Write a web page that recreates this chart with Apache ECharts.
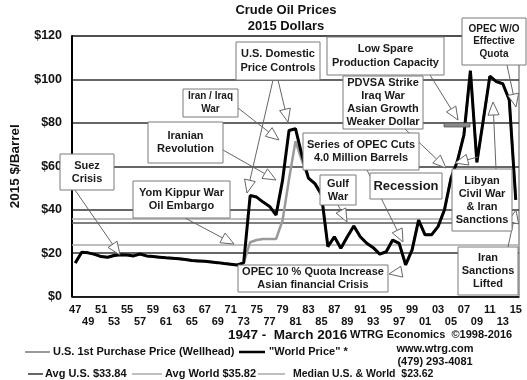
<!DOCTYPE html>
<html><head><meta charset="utf-8">
<script src="https://cdn.jsdelivr.net/npm/echarts@6/dist/echarts.min.js"></script>
<style>html,body{margin:0;padding:0;background:#fff}#c{width:527px;height:380px}</style>
</head><body><div id="c"></div>
<script>
const years = ['1947','1948','1949','1950','1951','1952','1953','1954','1955','1956','1957','1958','1959','1960','1961','1962','1963','1964','1965','1966','1967','1968','1969','1970','1971','1972','1973','1974','1975','1976','1977','1978','1979','1980','1981','1982','1983','1984','1985','1986','1987','1988','1989','1990','1991','1992','1993','1994','1995','1996','1997','1998','1999','2000','2001','2002','2003','2004','2005','2006','2007','2008','2009','2010','2011','2012','2013','2014','2015'];
const yearLabels = ['47','48','49','50','51','52','53','54','55','56','57','58','59','60','61','62','63','64','65','66','67','68','69','70','71','72','73','74','75','76','77','78','79','80','81','82','83','84','85','86','87','88','89','90','91','92','93','94','95','96','97','98','99','00','01','02','03','04','05','06','07','08','09','10','11','12','13','14','15'];
const worldPrice = [15.4,20.4,20.1,19.4,18.4,18.1,18.9,19.2,19.1,18.7,19.6,18.7,18.4,18.1,17.8,17.6,17.4,17.0,16.6,16.4,16.2,15.9,15.6,15.2,14.9,14.5,15.5,46.5,45.8,43.5,41.5,37.5,53.5,76.5,77.3,65,54.5,52,47,23,27.5,22.2,27.5,32.5,27.5,24.5,22.5,19.5,20.6,26,24.5,14.6,21.5,35.2,28.4,28.4,32.2,40,54.5,62.5,74.5,104,61.8,81.5,101.5,99,98,90.5,44.5];
const usPrice = [15.4,20.4,20.1,19.4,18.4,18.1,18.9,19.2,19.1,18.7,19.6,18.7,18.4,18.1,17.8,17.6,17.4,17.0,16.6,16.4,16.2,15.9,15.6,15.2,14.9,14.5,15.5,25,26,26.5,26.5,26.5,35,54,71.5,62.5,54.5,52,47,23,27.5,22.2,27.5,32.5,27.5,24.5,22.5,19.5,20.6,26,24.5,14.6,21.5,35.2,28.4,28.4,32.2,40,54.5,62.5,74.5,104,61.8,81.5,101.5,99,98,90.5,44.5];
const avgUS = 33.84;
const avgWorld = 35.82;
const medianBoth = 23.62;
const yMin = 0, yMax = 120, yStep = 20;

const FF = '"Liberation Sans", Arial, sans-serif';
const chart = echarts.init(document.getElementById('c'), null, {renderer:'canvas'});

function box(x, y, w, h, text, size, lh) {
  return [
    {type:'rect', z:50, shape:{x:x, y:y, width:w, height:h}, style:{fill:'#fff', stroke:'#7a7a7a', lineWidth:1}},
    {type:'text', z:51, x:x + w/2, y:y + h/2, style:{text:text, align:'center', verticalAlign:'middle', lineHeight:lh || 13, font:'bold ' + size + 'px ' + FF, fill:'#1a1a1a'}}
  ];
}
function arrow(x1, y1, x2, y2) {
  const dx = x2 - x1, dy = y2 - y1, len = Math.hypot(dx, dy);
  const ux = dx/len, uy = dy/len;
  const L = 13, W = 5.5;
  const bx = x2 - ux*L, by = y2 - uy*L;
  const px = -uy, py = ux;
  const els = [];
  if (len > L) els.push({type:'line', z:48, shape:{x1:x1, y1:y1, x2:bx, y2:by}, style:{stroke:'#666', lineWidth:1}});
  els.push({type:'polygon', z:49, shape:{points:[[x2,y2],[bx+px*W,by+py*W],[bx-px*W,by-py*W]]}, style:{fill:'#fff', stroke:'#666', lineWidth:1}});
  return els;
}
function legLine(x1, x2, y, color, w) {
  return {type:'line', shape:{x1:x1, y1:y, x2:x2, y2:y}, style:{stroke:color, lineWidth:w}};
}
function txt(x, y, text, size, align) {
  return {type:'text', x:x, y:y, style:{text:text, align:align || 'left', verticalAlign:'middle', font:'bold ' + size + 'px ' + FF, fill:'#111'}};
}

let g = [];
// arrows
g = g.concat(arrow(75,190,120,255));
g = g.concat(arrow(185,218,234,244));
g = g.concat(arrow(223,150,276,180));
g = g.concat(arrow(238,108,279,140));
g = g.concat(arrow(273,80,247,193));
g = g.concat(arrow(278,80,288,122));
g = g.concat(arrow(338,205,347,222));
g = g.concat(arrow(367,170,403,242));
g = g.concat(arrow(405,129,446,168));
g = g.concat(arrow(478,157,455,163));
g = g.concat(arrow(430,75,458,120));
g = g.concat(arrow(507,65,516,107));
g = g.concat(arrow(496,169,493,102));
g = g.concat(arrow(508,247,516,210));
g = g.concat(arrow(400,272,389,274));
// boxes
g = g.concat(box(60,154,54,36,'Suez\nCrisis',11));
g = g.concat(box(133,181,97,37,'Yom Kippur War\nOil Embargo',11));
g = g.concat(box(148,122,75,41,'Iranian\nRevolution',11));
g = g.concat(box(183,89,55,28,'Iran / Iraq\nWar',10));
g = g.concat(box(236,42,84,38,'U.S. Domestic\nPrice Controls',11,14.5));
g = g.concat(box(238,265,150,27,'OPEC 10 % Quota Increase\nAsian financial Crisis',11));
g = g.concat(box(327,37,117,38,'Low Spare\nProduction Capacity',11,14));
g = g.concat(box(343,76,80,53,'PDVSA Strike\nIraq War\nAsian Growth\nWeaker Dollar',11));
g = g.concat(box(462,18,64,47,'OPEC W/O\nEffective\nQuota',10,12.5));
g = g.concat(box(303,133,116,37,'Series of OPEC Cuts\n4.0 Million Barrels',11));
g = g.concat(box(320,175,36,30,'Gulf\nWar',11));
g = g.concat(box(370,173,72,26,'Recession',13));
g = g.concat(box(452,169,60,62,'Libyan\nCivil War\n& Iran\nSanctions',11));
g = g.concat(box(458,247,60,48,'Iran\nSanctions\nLifted',11));
g.push({type:'rect', z:52, shape:{x:444, y:123, width:26, height:4}, style:{fill:'#8a8a8a', stroke:'#555', lineWidth:0.8}});
// footer texts
g.push(txt(228,335,'1947 -  March 2016',13.5));
g.push(txt(350,335,'WTRG Economics  \u00A91998-2016',11));
g.push(legLine(25,50,352,'#9a9a9a',2));
g.push(txt(53,352,'U.S. 1st Purchase Price (Wellhead)',11));
g.push(legLine(239,265,352,'#000',2.5));
g.push(txt(269,352,'"World Price" *',11));
g.push(txt(435,349,'www.wtrg.com',11,'center'));
g.push(txt(435,362,'(479) 293-4081',11,'center'));
g.push(legLine(28,43,374,'#333',1.5));
g.push(txt(45,374,'Avg U.S. $33.84',11));
g.push(legLine(132,162,374,'#aaa',1.5));
g.push(txt(165,374,'Avg World $35.82',11));
g.push(legLine(258,285,374,'#aaa',1.5));
g.push(txt(293,374,'Median U.S. & World  $23.62',10.5));

const option = {
  animation: false,
  backgroundColor: '#fff',
  title: {
    text: 'Crude Oil Prices\n2015 Dollars',
    left: 281, top: -3, textAlign: 'center',
    textStyle: {fontFamily: FF, fontSize: 13, fontWeight: 'bold', color: '#111', lineHeight: 16}
  },
  grid: {left: 57, right: 8, top: 36, bottom: 83.5, show: true, borderColor: '#555', borderWidth: 1},
  xAxis: {
    type: 'category', data: years, boundaryGap: true,
    axisLine: {lineStyle: {color: '#111', width: 1.5}},
    axisTick: {interval: 0, length: 4, lineStyle: {color: '#333'}},
    axisLabel: {
      interval: function (i) { return i % 2 === 0; },
      formatter: function (v, i) { return (i % 4 === 0 ? '' : '\n') + yearLabels[i]; },
      fontFamily: FF, fontSize: 11, fontWeight: 'bold', color: '#111', margin: 7, lineHeight: 12.5
    },
    splitLine: {show: false}
  },
  yAxis: {
    type: 'value', min: yMin, max: yMax, interval: yStep,
    name: '2015 $/Barrel', nameLocation: 'middle', nameGap: 50,
    nameTextStyle: {fontFamily: FF, fontSize: 13.5, fontWeight: 'bold', color: '#111'},
    axisLine: {show: true, lineStyle: {color: '#000', width: 2}},
    axisTick: {show: false},
    axisLabel: {formatter: '${value}', fontFamily: FF, fontSize: 12.5, fontWeight: 'bold', color: '#111', margin: 10},
    splitLine: {lineStyle: {color: '#333', width: 1.5}}
  },
  series: [
    {
      name: 'U.S. 1st Purchase Price (Wellhead)', type: 'line', data: usPrice, symbol: 'none', z: 3,
      lineStyle: {color: '#9a9a9a', width: 2.5}, itemStyle: {color: '#9a9a9a'},
      markLine: {
        silent: true, symbol: 'none', label: {show: false}, z: 1,
        data: [
          {yAxis: avgWorld, lineStyle: {color: '#a8a8a8', width: 1.5, type: 'solid'}},
          {yAxis: avgUS, lineStyle: {color: '#555', width: 1.5, type: 'solid'}},
          {yAxis: medianBoth, lineStyle: {color: '#a8a8a8', width: 1.5, type: 'solid'}}
        ]
      }
    },
    {
      name: 'World Price', type: 'line', data: worldPrice, symbol: 'none', z: 4,
      lineStyle: {color: '#000', width: 3}, itemStyle: {color: '#000'}
    }
  ],
  graphic: g
};
chart.setOption(option);
</script>
</body></html>
